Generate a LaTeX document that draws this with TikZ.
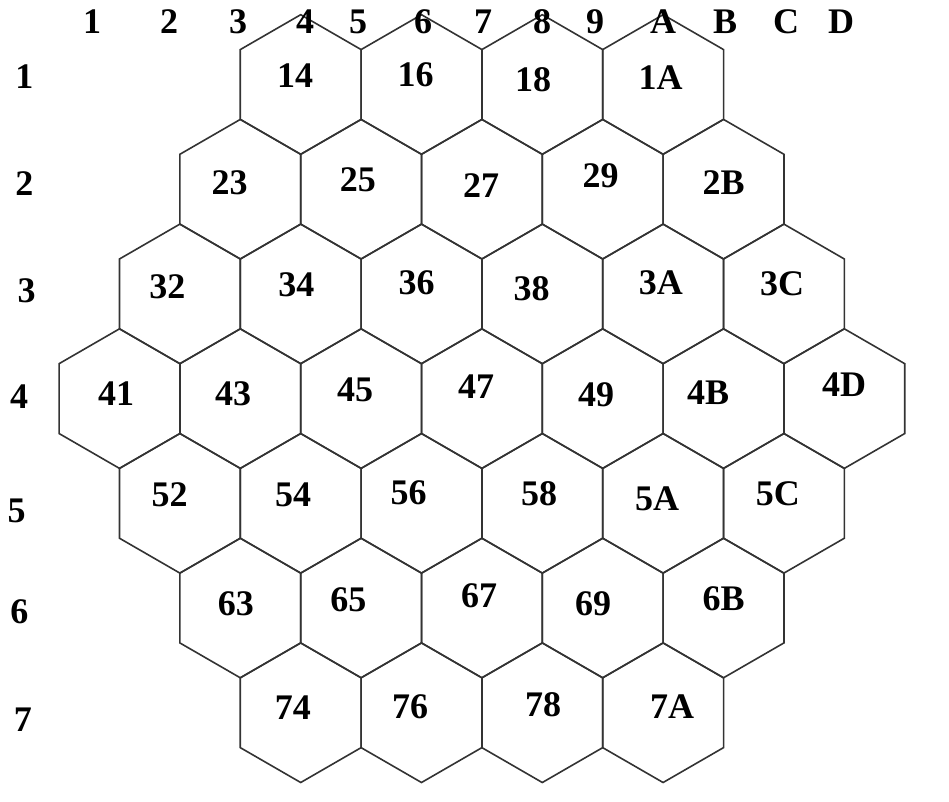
\documentclass[tikz,border=0pt]{standalone}
\usepackage{fontspec}
\setmainfont{Liberation Serif}
\tikzset{%
	cell/.style={draw=black!80, line width=1.6pt},
	cellname/.style={inner sep=0mm, font=\fontsize{36}{36}\selectfont\bfseries},
	axisname/.style={inner sep=0mm, font=\fontsize{36}{36}\selectfont\bfseries}
}
\newcommand{\hexR}{69.8}

\begin{document}
\begin{tikzpicture}[x=1pt, y=-1pt]
	\useasboundingbox (0,0) rectangle (949,801);
	
	% cells: row/column/name/label position
	\foreach \r/\c/\id/\lx/\ly in {
		1/4/14/295/75.5, 1/6/16/415.5/74.5, 1/8/18/533/79.7, 1/10/1A/660.5/78,
		2/3/23/229.5/183, 2/5/25/357.8/179.7, 2/7/27/481/186, 2/9/29/600.7/176, 2/11/2B/723.7/183,
		3/2/32/167.3/287, 3/4/34/296.3/284.7, 3/6/36/416.7/282.8, 3/8/38/531.7/289, 3/10/3A/660.8/282.8, 3/12/3C/782/284,
		4/1/41/116/393.5, 4/3/43/233/393.5, 4/5/45/355/390, 4/7/47/476/387, 4/9/49/596/395, 4/11/4B/708/393, 4/13/4D/844/385,
		5/2/52/169.5/495, 5/4/54/293/494.7, 5/6/56/408.7/492.3, 5/8/58/539/493.3, 5/10/5A/657.2/499, 5/12/5C/777.8/493.3,
		6/3/63/235.8/604, 6/5/65/348.3/599.7, 6/7/67/479/596, 6/9/69/593/604, 6/11/6B/723.7/598.5,
		7/4/74/292.8/708, 7/6/76/410/707, 7/8/78/543/704.7, 7/10/7A/672/707}{
		\pgfmathsetmacro{\cx}{119.5+60.4*(\c-1)}
		\pgfmathsetmacro{\cy}{84.5+104.7*(\r-1)}
		\coordinate (c\id) at (\cx,\cy);
		\draw[cell] (c\id) +(30:\hexR) -- +(90:\hexR) -- +(150:\hexR) -- +(210:\hexR)
			-- +(270:\hexR) -- +(330:\hexR) -- cycle;
		\node[cellname] (n\id) at (\lx,\ly) {\id};
	}
	
	% column names
	\foreach \id/\x in {1/92, 2/169, 3/238, 4/305, 5/358, 6/423, 7/483,
		8/542, 9/595, A/663, B/725, C/786, D/841}
		\node[axisname] (col\id) at (\x,22) {\id};
	
	% row names
	\foreach \id/\x/\y in {1/24.5/77, 2/24.5/184, 3/26.7/290.8, 4/19/397,
		5/16.7/510.8, 6/19.3/612, 7/22.8/720}
		\node[axisname] (row\id) at (\x,\y) {\id};
\end{tikzpicture}
\end{document}
